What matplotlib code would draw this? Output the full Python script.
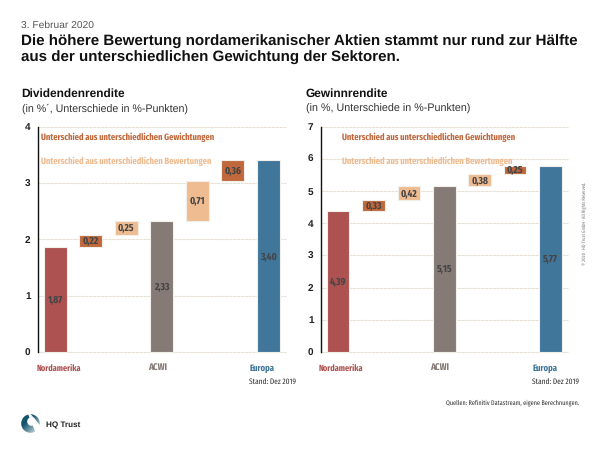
import numpy as np
import matplotlib
matplotlib.use("Agg")
import matplotlib.pyplot as plt
from matplotlib import font_manager as fm
from matplotlib.patches import Circle, Wedge

plt.rcParams['font.family'] = ['Liberation Sans', 'DejaVu Sans']
plt.rcParams['text.hinting'] = 'no_hinting'
bold_fonts = {f.name for f in fm.fontManager.ttflist
              if f.weight in ('bold', 700, 'semibold', 600, 'demibold', 'heavy', 800)}
regular_fonts = {f.name for f in fm.fontManager.ttflist}
CANDIDATES = ['Liberation Sans Narrow', 'Fira Sans Extra Condensed', 'Fira Sans Condensed',
              'Roboto Condensed', 'PT Sans Narrow', 'Archivo Narrow', 'Pragati Narrow']
BOLDN = [n for n in CANDIDATES if n in bold_fonts] + ['Liberation Sans', 'DejaVu Sans']
NARROW = [n for n in CANDIDATES if n in regular_fonts] + ['Liberation Sans', 'DejaVu Sans']

RED, GRAY, BLUE = '#AD5250', '#857A76', '#41769B'
DARK, LIGHT = '#C0683C', '#EFBB90'
GRID = '#E8E1D6'
TXT = '#444444'

categories = ['Nordamerika', '', 'ACWI', '', '', '', 'Europa']
bar_colors = [RED, DARK, LIGHT, GRAY, LIGHT, DARK, BLUE]
category_colors = [RED, GRAY, BLUE]

div_bottoms = [0, 1.87, 2.08, 0, 2.33, 3.04, 0]
div_heights = [1.87, 0.21, 0.25, 2.33, 0.71, 0.36, 3.40]
div_labels = ['1,87', '0,22', '0,25', '2,33', '0,71', '0,36', '3,40']
div_ticks = [0, 1, 2, 3, 4]

gew_bottoms = [0, 4.39, 4.72, 0, 5.14, 5.53, 0]
gew_heights = [4.39, 0.33, 0.42, 5.15, 0.38, 0.25, 5.77]
gew_labels = ['4,39', '0,33', '0,42', '5,15', '0,38', '0,25', '5,77']
gew_ticks = [0, 1, 2, 3, 4, 5, 6, 7]

W, H = 600, 450
fig = plt.figure(figsize=(6, 4.5), dpi=100, facecolor='white')
renderer = fig.canvas.get_renderer()

def T(x, y, s, width=None, **kw):
    kw.setdefault('va', 'baseline')
    t = fig.text(x / W, 1 - y / H, s, **kw)
    if width:
        t.set_fontsize(t.get_fontsize() * width / t.get_window_extent(renderer).width)
    return t

T(21, 28, '3. Februar 2020', width=73, fontsize=7.4, color='#555555')
T(21, 45.5, 'Die höhere Bewertung nordamerikanischer Aktien stammt nur rund zur Hälfte',
  width=558, fontsize=11, fontweight='bold', color='#111111')
T(21, 61.5, 'aus der unterschiedlichen Gewichtung der Sektoren.',
  width=378, fontsize=11, fontweight='bold', color='#111111')

def panel(x0, x1, bottoms, heights, labels, ticks, ymax, head, sub, hx, hw, sw, nx):
    ax = fig.add_axes([x0 / W, 1 - 352 / H, (x1 - x0) / W, (352 - 126.5) / H])
    ax.set_xlim(-0.5, 6.5)
    ax.set_ylim(0, ymax)
    ax.set_axisbelow(True)
    ax.yaxis.grid(True, color=GRID, lw=0.8, ls=(0, (3, 0.5)), clip_on=False)
    ax.xaxis.set_visible(False)
    for s in ['top', 'right', 'bottom']:
        ax.spines[s].set_visible(False)
    ax.spines['left'].set_linewidth(1.0)
    ax.spines['left'].set_color('#111111')
    ax.set_yticks(ticks)
    ax.tick_params(axis='y', length=0, pad=5, labelsize=7.2, labelcolor='#222222')
    for t in ax.get_yticklabels():
        t.set_fontweight('bold')
    xs = np.arange(len(heights))
    ax.bar(xs, heights, bottom=bottoms, width=0.64, color=bar_colors,
           edgecolor='#F2EEEA', linewidth=0.8, zorder=3, clip_on=False)
    # gaps the outline of the floating boxes leaves in the baseline
    ax.bar(xs[[1, 2, 4, 5]], [0] * 4, width=0.72, bottom=0, color='white',
           edgecolor='white', linewidth=1.4, zorder=2)
    for x, b, h, l in zip(xs, bottoms, heights, labels):
        ax.text(x, b + h / 2, l, ha='center', va='center', fontsize=7.4,
                family=BOLDN, fontweight='bold', color=TXT, zorder=4)
    T(hx, 97, head, width=hw, fontsize=8.7, fontweight='bold', color='#111111')
    T(hx, 112, sub, width=sw, fontsize=7.65, color='#333333')
    for px, name, c, w in zip(nx, ['Nordamerika', 'ACWI', 'Europa'], category_colors, [44.5, 19, 25]):
        T(px, 371, name, width=w, fontsize=7.4, fontweight='bold', family=BOLDN, color=c)
    return ax

panel(37.5, 286, div_bottoms, div_heights, div_labels, div_ticks, 4,
      'Dividendenrendite', '(in %´, Unterschiede in %-Punkten)', 21.5, 104.5, 166.5, [36.5, 148, 250])
panel(320.5, 568, gew_bottoms, gew_heights, gew_labels, gew_ticks, 7,
      'Gewinnrendite', '(in %, Unterschiede in %-Punkten)', 306, 83, 164, [318.5, 430.5, 532.5])

for x in (41, 342.5):
    T(x, 140, 'Unterschied aus unterschiedlichen Gewichtungen', width=173.5, fontsize=7,
      fontweight='bold', family=BOLDN, color=DARK)
    T(x, 164, 'Unterschied aus unterschiedlichen Bewertungen', width=170.5, fontsize=7,
      fontweight='bold', family=BOLDN, color=LIGHT)

T(249, 384, 'Stand: Dez 2019', width=47, fontsize=6.2, family=NARROW, color='#333333')
T(531.5, 384, 'Stand: Dez 2019', width=47, fontsize=6.2, family=NARROW, color='#333333')
T(445.5, 405, 'Quellen: Refinitiv Datastream, eigene Berechnungen.', width=133, fontsize=5.6,
  family=NARROW, color='#333333')
T(584.5, 223, '© 2020 · HQ Trust GmbH · All Rights Reserved.', fontsize=3.5, color='#777777',
  rotation=90, ha='center', va='center', family=NARROW)

# logo
lax = fig.add_axes([0, 0, 1, 1], facecolor='none')
lax.axis('off')
u, v = np.meshgrid(np.linspace(0, 1, 64), np.linspace(0, 1, 64))
grad = np.clip((u + v - 0.7) / 1.2, 0, 1)
c0 = np.array([0x12, 0x55, 0x6E]) / 255
img = c0[None, None, :] * (1 - grad[..., None]) + np.array([0.88, 0.9, 0.9])[None, None, :] * grad[..., None]
im = lax.imshow(img, extent=(21, 40, 433, 414), zorder=5, aspect='auto')
im.set_clip_path(Circle((30.5, 423.5), 9.3, transform=lax.transData))
lax.set_xlim(0, W)
lax.set_ylim(H, 0)
lax.add_patch(Circle((31.5, 421.5), 3.6, color='white', zorder=6))
lax.add_patch(Wedge((28, 412), 22, 50, 68, color='white', zorder=6))
T(45.5, 427, 'HQ Trust', width=34.5, fontsize=7.4, fontweight='bold', color='#222222')

fig.savefig('out.png', dpi=100)
